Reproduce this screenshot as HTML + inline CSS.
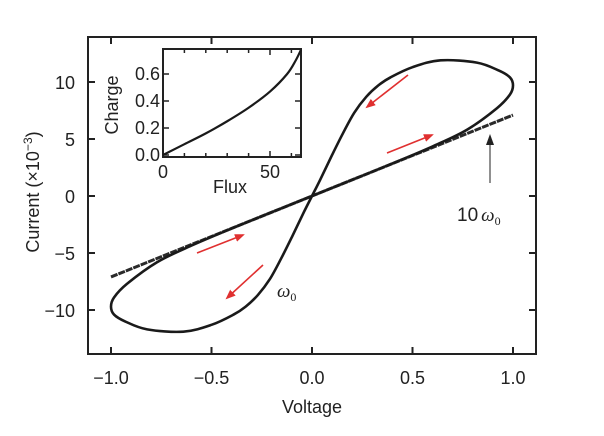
<!DOCTYPE html>
<html><head><meta charset="utf-8"><style>
body{margin:0;background:#fff;width:604px;height:431px;overflow:hidden}
svg text{font-family:"Liberation Sans",sans-serif;fill:#222}
</style></head><body>
<svg id="chart" width="604" height="431" viewBox="0 0 604 431" xmlns="http://www.w3.org/2000/svg">
<defs><marker id="ra" markerWidth="10" markerHeight="8" refX="8" refY="4" orient="auto" markerUnits="userSpaceOnUse"><path d="M0,0 L10,4 L0,8 Z" fill="#e03030"/></marker></defs>
<g id="main"></g>
</svg>
<script>
const xTicks=[-1.0,-0.5,0.0,0.5,1.0];
const xTickLabels=["\u22121.0","\u22120.5","0.0","0.5","1.0"];
const yTicks=[-10,-5,0,5,10];
const yTickLabels=["\u221210","\u22125","0","5","10"];
const loopHalfV=[0,0.04,0.1,0.154,0.21,0.27,0.33,0.39,0.5,0.64,0.82,0.93,0.985,1.0,0.985,0.92,0.77,0.6,0.4,0.2];
const loopHalfI=[0,1.4,3.6,5.5,7.3,8.7,9.7,10.4,11.3,11.9,11.7,11.0,10.4,9.7,8.9,7.7,5.8,4.35,2.85,1.42];
const lineV=[-1,1];
const lineI=[-7.1,7.1];
const insetFlux=[0,10,20,30,40,50,58,62,64.5];
const insetCharge=[0,0.08,0.16,0.25,0.35,0.47,0.6,0.7,0.78];
const insetXTicks=[0,50];
const insetYTicks=[0.0,0.2,0.4,0.6];

const NS="http://www.w3.org/2000/svg";
const g=document.getElementById('main');
function el(t,a,txt){const e=document.createElementNS(NS,t);for(const k in a)e.setAttribute(k,a[k]);if(txt!==undefined)e.textContent=txt;g.appendChild(e);return e;}
const L=88,R=536,T=37,B=354;
const xs=v=>312+v*201;
const ys=i=>196-i*11.4;
function smooth(pts,closed){const n=pts.length;const get=i=>closed?pts[(i+n)%n]:pts[Math.max(0,Math.min(n-1,i))];
 let d="M"+pts[0][0]+","+pts[0][1];const m=closed?n:n-1;
 for(let i=0;i<m;i++){const p0=get(i-1),p1=get(i),p2=get(i+1),p3=get(i+2);
 d+=" C"+(p1[0]+(p2[0]-p0[0])/6)+","+(p1[1]+(p2[1]-p0[1])/6)+" "+(p2[0]-(p3[0]-p1[0])/6)+","+(p2[1]-(p3[1]-p1[1])/6)+" "+p2[0]+","+p2[1];}
 return d+(closed?"Z":"");}

let f=el('rect',{x:L,y:T,width:R-L,height:B-T,fill:'none',stroke:'#222','stroke-width':2});

xTicks.forEach((v,k)=>{
 let t=el('line',{x1:xs(v),x2:xs(v),y1:B,y2:B-7,stroke:'#222','stroke-width':2});
 
 el('line',{x1:xs(v),x2:xs(v),y1:T,y2:T+7,stroke:'#222','stroke-width':2});
 let lb=el('text',{x:xs(v),y:B+30,'text-anchor':'middle','font-size':18},xTickLabels[k]);
 
});
yTicks.forEach((v,k)=>{
 let t=el('line',{x1:L,x2:L+7,y1:ys(v),y2:ys(v),stroke:'#222','stroke-width':2});
 
 el('line',{x1:R,x2:R-7,y1:ys(v),y2:ys(v),stroke:'#222','stroke-width':2});
 let lb=el('text',{x:L-13,y:ys(v)+7,'text-anchor':'end','font-size':18},yTickLabels[k]);
 
});
let xt=el('text',{x:312,y:413,'text-anchor':'middle','font-size':18},'Voltage');

let yt=el('text',{x:0,y:0,'text-anchor':'middle','font-size':18,transform:'translate(39,192) rotate(-90)'},'');
yt.innerHTML='Current (\u00d710<tspan dy="-7" font-size="12">\u22123</tspan><tspan dy="7">)</tspan>';


let ln=el('line',{x1:xs(lineV[0]),y1:ys(lineI[0]),x2:xs(lineV[1]),y2:ys(lineI[1]),stroke:'#2a2a2a','stroke-width':3,'stroke-dasharray':'7 1'});


const pts=[];
loopHalfV.forEach((v,i)=>pts.push([xs(v),ys(loopHalfI[i])]));
loopHalfV.forEach((v,i)=>pts.push([xs(-v),ys(-loopHalfI[i])]));
// second half: origin along line to negative tip, then steep back: negation in same order gives steep first, so reorder
const half=loopHalfV.length;
const neg=pts.slice(half);
const tipIdx=loopHalfV.indexOf(1.0);
const negOrdered=[neg[0]].concat(neg.slice(1).reverse());
const full=pts.slice(0,half).concat(negOrdered);
let lp=el('path',{d:smooth(full,true),fill:'none',stroke:'#1a1a1a','stroke-width':2.6});


[[408,75,367,107],[387,153,432,135],[197,253,243,235],[263,265,227,298]].forEach(a=>{
 let ar=el('line',{x1:a[0],y1:a[1],x2:a[2],y2:a[3],stroke:'#e03030','stroke-width':1.6,'marker-end':'url(#ra)'});
 
});
let ba=el('line',{x1:490,y1:183,x2:490,y2:137,stroke:'#555','stroke-width':1.3});

el('path',{d:'M486,145 L490,134 L494,145 Z',fill:'#222'});
let a1=el('text',{x:457,y:221,'font-size':19},'');
a1.innerHTML='10<tspan font-family="Liberation Serif" font-style="italic" dx="3">\u03c9</tspan><tspan font-family="Liberation Serif" font-size="12" dy="4">0</tspan>';

let a2=el('text',{x:277,y:297,'font-size':19},'');
a2.innerHTML='<tspan font-family="Liberation Serif" font-style="italic">\u03c9</tspan><tspan font-family="Liberation Serif" font-size="12" dy="4">0</tspan>';


const iL=163,iR=301,iT=49,iB=157;
const ix=v=>iL+v*2.14;
const iy=v=>155-v*135;
let ib=el('rect',{x:iL,y:iT,width:iR-iL,height:iB-iT,fill:'#fff',stroke:'#222','stroke-width':2});

for(let v=0;v<=60;v+=10){el('line',{x1:ix(v),x2:ix(v),y1:iB,y2:iB-(v%50===0?6:4),stroke:'#222','stroke-width':1.5});el('line',{x1:ix(v),x2:ix(v),y1:iT,y2:iT+(v%50===0?6:4),stroke:'#222','stroke-width':1.5});}
insetXTicks.forEach(v=>{let t=el('text',{x:ix(v),y:iB+21,'text-anchor':'middle','font-size':18},String(v));});
insetYTicks.forEach(v=>{
 el('line',{x1:iL,x2:iL+6,y1:iy(v),y2:iy(v),stroke:'#222','stroke-width':1.5});
 el('line',{x1:iR,x2:iR-6,y1:iy(v),y2:iy(v),stroke:'#222','stroke-width':1.5});
 let t=el('text',{x:iL-3,y:iy(v)+6,'text-anchor':'end','font-size':18},v.toFixed(1));
 
});
let ixt=el('text',{x:230,y:193,'text-anchor':'middle','font-size':18},'Flux');

let iyt=el('text',{x:0,y:0,'text-anchor':'middle','font-size':18,transform:'translate(118,105) rotate(-90)'},'Charge');

const ipts=insetFlux.map((v,i)=>[ix(v),iy(insetCharge[i])]);
let ic=el('path',{d:smooth(ipts,false),fill:'none',stroke:'#1a1a1a','stroke-width':2.2});

</script>
</body></html>
